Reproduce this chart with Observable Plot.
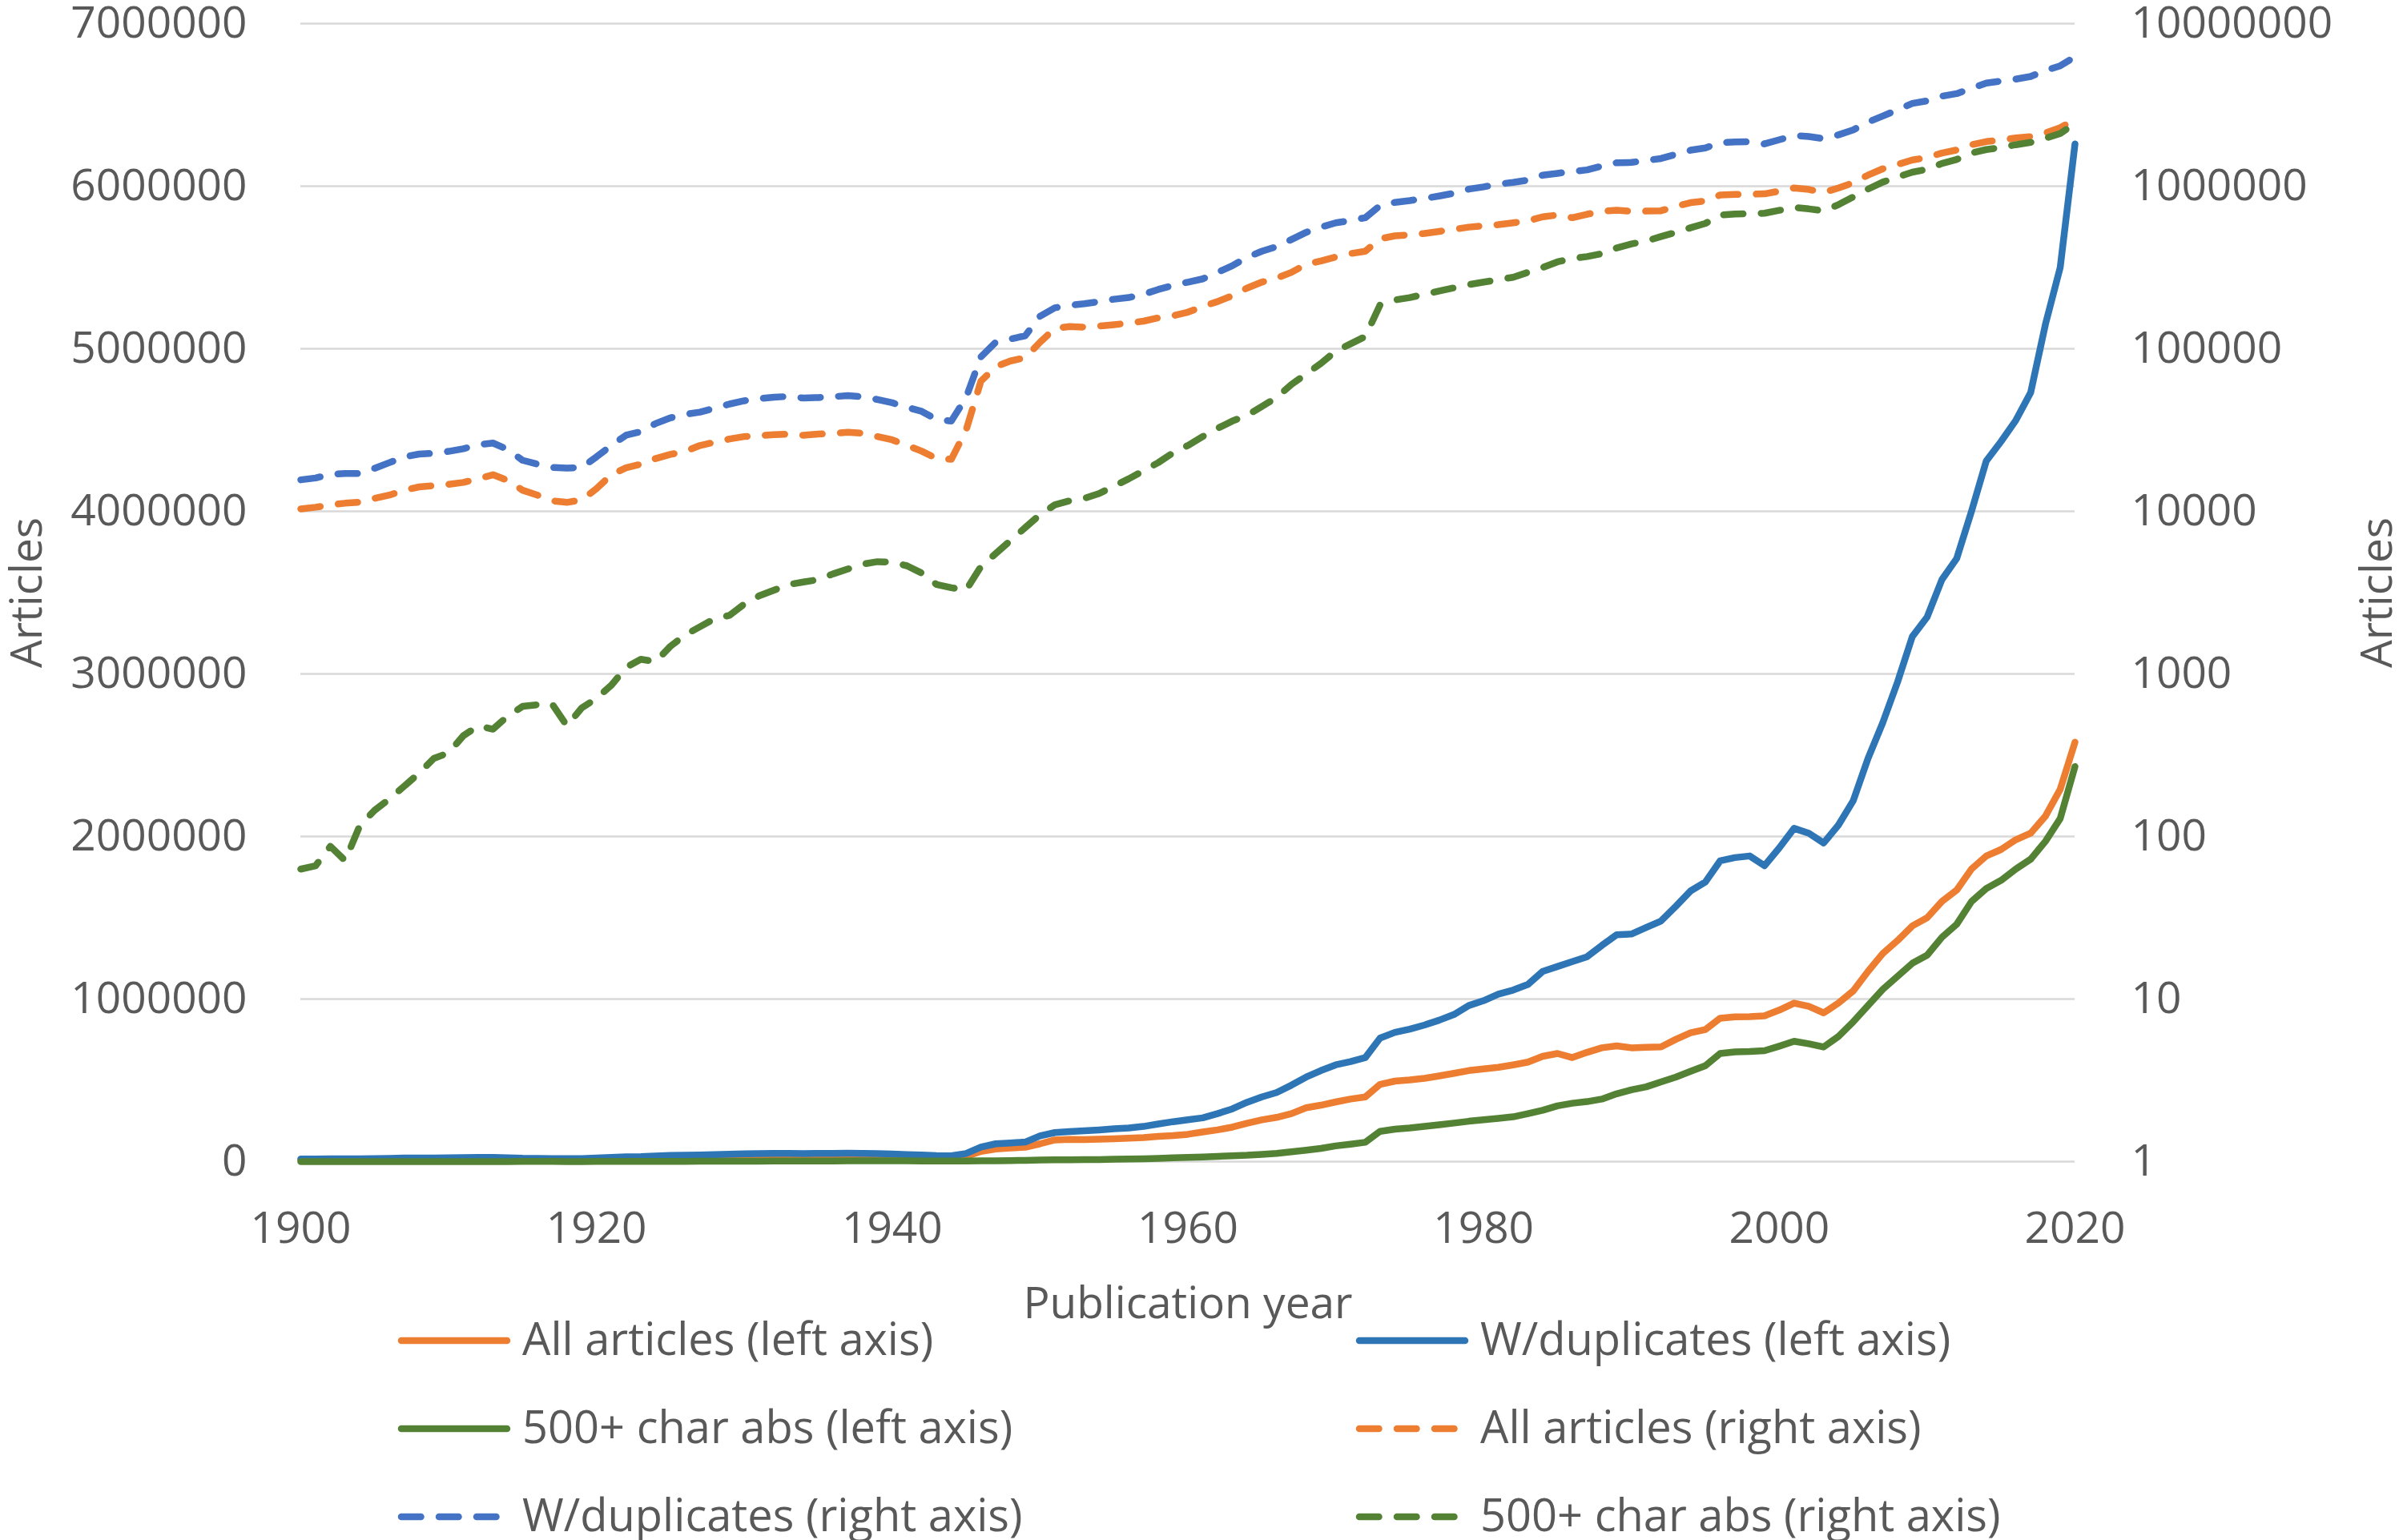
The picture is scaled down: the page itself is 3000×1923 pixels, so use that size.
<!DOCTYPE html>
<html>
<head>
<meta charset="utf-8">
<script src="https://cdn.jsdelivr.net/npm/d3@7"></script>
<script src="https://cdn.jsdelivr.net/npm/@observablehq/plot@0.6"></script>
<style>
  html, body { margin: 0; padding: 0; background: #ffffff; }
  #chart svg { display: block; }
</style>
</head>
<body>
<div id="chart"></div>
<script>
// ---------- data ----------
const years = [
  1900,1901,1902,1903,1904,1905,1906,1907,1908,1909,
  1910,1911,1912,1913,1914,1915,1916,1917,1918,1919,
  1920,1921,1922,1923,1924,1925,1926,1927,1928,1929,
  1930,1931,1932,1933,1934,1935,1936,1937,1938,1939,
  1940,1941,1942,1943,1944,1945,1946,1947,1948,1949,
  1950,1951,1952,1953,1954,1955,1956,1957,1958,1959,
  1960,1961,1962,1963,1964,1965,1966,1967,1968,1969,
  1970,1971,1972,1973,1974,1975,1976,1977,1978,1979,
  1980,1981,1982,1983,1984,1985,1986,1987,1988,1989,
  1990,1991,1992,1993,1994,1995,1996,1997,1998,1999,
  2000,2001,2002,2003,2004,2005,2006,2007,2008,2009,
  2010,2011,2012,2013,2014,2015,2016,2017,2018,2019,
  2020
];

const allArticles = [
  10350,10600,10960,11220,11400,12020,12590,13490,14130,14390,
  14660,15070,15850,16790,15490,13490,12590,11610,11350,11750,
  13800,16790,18530,19500,21130,22390,23390,25410,26610,27860,
  28840,29170,29650,29850,29380,29850,30200,30620,30200,28840,
  27540,25410,23440,21130,20890,31620,63100,77600,84100,88100,
  109600,133400,137100,135800,138000,140600,143900,147900,154900,159600,
  167900,182000,195000,212000,236000,257000,272000,295000,331000,347000,
  367000,385000,398000,475000,495000,502000,512000,527000,543000,560000,
  570000,580000,595000,612000,648000,665000,640000,672000,700000,712000,
  700000,703000,706000,752000,792000,812000,882000,890000,892000,897000,
  932000,975000,955000,915000,975000,1050000,1170000,1280000,1360000,1450000,
  1500000,1600000,1670000,1800000,1880000,1920000,1980000,2020000,2125000,2290000,
  2580000
];

const withDuplicates = [
  15630,16030,16900,17100,17100,18410,19950,21630,22490,22750,
  23390,24270,25700,26300,23990,20610,19500,18620,18450,18620,
  21630,25410,29380,30900,34670,37580,39540,40740,43150,45710,
  47860,49320,50350,50930,49770,50120,50700,51520,50700,48750,
  46560,43650,41210,36730,35890,50120,89100,109600,114800,120200,
  158500,178600,184900,189200,195000,201800,206500,216300,231700,245500,
  257000,269000,295000,324000,365000,398000,425000,470000,520000,560000,
  595000,615000,640000,760000,795000,815000,840000,870000,905000,960000,
  990000,1030000,1055000,1090000,1170000,1200000,1230000,1260000,1330000,1395000,
  1400000,1440000,1480000,1570000,1665000,1720000,1850000,1870000,1880000,1820000,
  1930000,2050000,2020000,1960000,2070000,2220000,2480000,2700000,2950000,3230000,
  3350000,3580000,3710000,4000000,4310000,4430000,4560000,4730000,5150000,5500000,
  6260000
];

const chars500 = [
  63,66,87,71,117,145,170,204,245,302,
  327,417,479,457,550,631,646,653,479,617,
  708,851,1096,1230,1189,1479,1738,1950,2188,2291,
  2692,3020,3273,3548,3673,3802,4121,4416,4732,4898,
  4864,4624,4169,3548,3390,3273,4571,5495,6607,7943,
  9550,10960,11610,12020,12880,14290,15850,17780,19950,22910,
  25410,28840,32360,35890,38900,44160,50120,60260,69980,81280,
  96600,107200,118900,186200,199500,206500,216300,226500,237100,248300,
  257000,266100,275400,295100,316200,342700,358900,369000,384600,416900,
  441600,460000,490000,520000,555000,590000,665000,675000,677000,682000,
  710000,740000,725000,705000,770000,860000,960000,1060000,1140000,1220000,
  1270000,1380000,1460000,1600000,1680000,1730000,1800000,1860000,1970000,2110000,
  2430000
];

const leftTicks = [0,1000000,2000000,3000000,4000000,5000000,6000000,7000000];
const rightTickLabels = ["1","10","100","1000","10000","100000","1000000","10000000"];
const xTicks = [1900,1920,1940,1960,1980,2000,2020];

const seriesNames = [
  "All articles (left axis)", "W/duplicates (left axis)", "500+ char abs (left axis)",
  "All articles (right axis)", "W/duplicates (right axis)", "500+ char abs (right axis)"
];

// ---------- styling ----------
const ORANGE = "#ED7D31";
const BLUE_SOLID = "#2E75B6";
const BLUE_DASH = "#4472C4";
const GREEN = "#548235";
const TEXT = "#595959";
const FONT = "'Open Sans', 'Noto Sans', sans-serif";
const FS = 55;
const LW = 8.5;
const DASH = "24.5,22.5";

const W = 3000, H = 1650;
const mL = 375, mR = 410, mT = 29, mB = 200;

const table = (vals) => years.map((y, i) => ({year: y, value: vals[i]}));
// right axis is log10: 1 → 0, 10^7 → 7e6 on the shared left scale
const logY = d => Math.log10(d.value) * 1e6;

const solid = (vals, color) => Plot.line(table(vals), {
  x: "year", y: "value", stroke: color, strokeWidth: LW,
  strokeLinejoin: "round", strokeLinecap: "round"
});
const dashed = (vals, color) => Plot.line(table(vals), {
  x: "year", y: logY, stroke: color, strokeWidth: LW,
  strokeDasharray: DASH, strokeLinejoin: "round", strokeLinecap: "round"
});

const chart = Plot.plot({
  width: W, height: H,
  marginLeft: mL, marginRight: mR, marginTop: mT, marginBottom: mB,
  x: {domain: [1900, 2020]},
  y: {domain: [0, 7000000]},
  style: {fontFamily: FONT, fontSize: FS + "px", color: TEXT, background: "#ffffff", overflow: "visible"},
  marks: [
    Plot.gridY(leftTicks, {stroke: "#d9d9d9", strokeOpacity: 1, strokeWidth: 2.6}),
    Plot.axisY(leftTicks, {anchor: "left", tickSize: 0, tickPadding: 67, label: null,
      tickFormat: d => String(d), fill: TEXT}),
    Plot.axisY(leftTicks, {anchor: "right", tickSize: 0, tickPadding: 70, label: null,
      tickFormat: d => rightTickLabels[leftTicks.indexOf(d)], fill: TEXT}),
    Plot.axisX(xTicks, {anchor: "bottom", tickSize: 0, tickPadding: 62, label: null,
      tickFormat: d => String(d), fill: TEXT}),
    Plot.text(["Articles"], {frameAnchor: "left", dx: -341, rotate: -90, fill: TEXT,
      textAnchor: "middle", lineAnchor: "middle"}),
    Plot.text(["Articles"], {frameAnchor: "right", dx: 378, rotate: -90, fill: TEXT,
      textAnchor: "middle", lineAnchor: "middle"}),
    Plot.text(["Publication year"], {frameAnchor: "bottom", dy: 178, fill: TEXT,
      textAnchor: "middle", lineAnchor: "middle"}),
    solid(allArticles, ORANGE),
    solid(withDuplicates, BLUE_SOLID),
    solid(chars500, GREEN),
    dashed(allArticles, ORANGE),
    dashed(withDuplicates, BLUE_DASH),
    dashed(chars500, GREEN)
  ]
});
document.getElementById("chart").appendChild(chart);

// ---------- legend (below the plot SVG) ----------
const legendItems = [
  {name: seriesNames[0], color: ORANGE, dash: null, col: 0, row: 0},
  {name: seriesNames[1], color: BLUE_SOLID, dash: null, col: 1, row: 0},
  {name: seriesNames[2], color: GREEN, dash: null, col: 0, row: 1},
  {name: seriesNames[3], color: ORANGE, dash: DASH, col: 1, row: 1},
  {name: seriesNames[4], color: BLUE_DASH, dash: DASH, col: 0, row: 2},
  {name: seriesNames[5], color: GREEN, dash: DASH, col: 1, row: 2}
];
const colX = [497, 1693];
const rowY = [24, 134, 244];
const LH = 1923 - H;
const leg = d3.create("svg")
  .attr("id", "legend")
  .attr("width", W).attr("height", LH)
  .attr("viewBox", `0 0 ${W} ${LH}`)
  .style("display", "block")
  .style("overflow", "visible")
  .style("font-family", FONT)
  .style("font-size", "56px");
const g = leg.selectAll("g").data(legendItems).join("g")
  .attr("transform", d => `translate(${colX[d.col]},${rowY[d.row]})`);
g.append("line")
  .attr("x1", 4).attr("x2", 136).attr("y1", 0).attr("y2", 0)
  .attr("stroke", d => d.color).attr("stroke-width", LW)
  .attr("stroke-linecap", "round")
  .attr("stroke-dasharray", d => d.dash);
g.append("text")
  .attr("x", 155).attr("y", 18)
  .attr("fill", TEXT)
  .text(d => d.name);
document.getElementById("chart").appendChild(leg.node());
</script>
</body>
</html>
